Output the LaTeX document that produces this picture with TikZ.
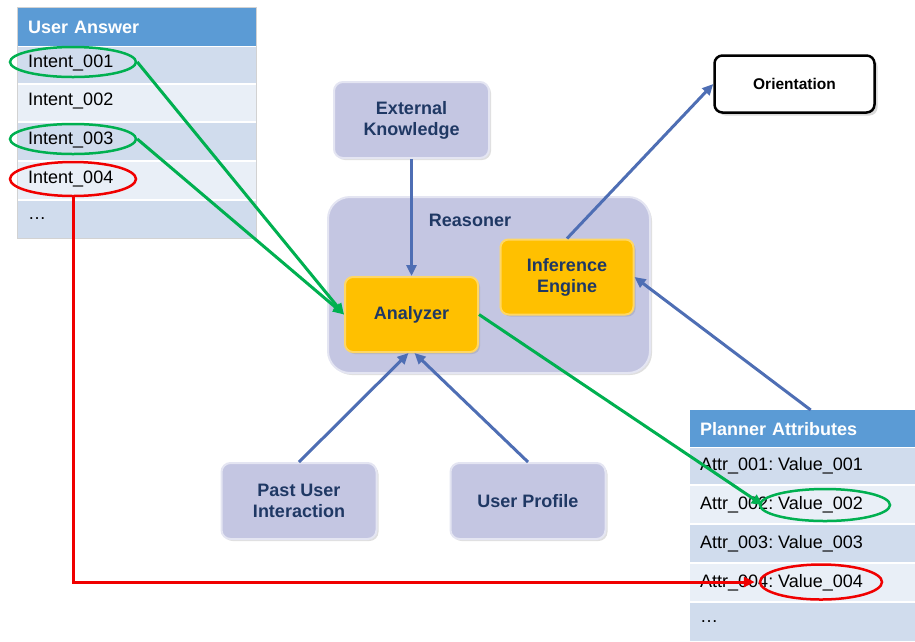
\documentclass[tikz,border=0pt]{standalone}
\usepackage{fontspec}
\setmainfont{Liberation Sans}
\usetikzlibrary{arrows.meta,shadows,shapes.geometric}
\definecolor{navy}{RGB}{31,56,100}
\definecolor{hdr}{RGB}{91,155,213}
\definecolor{rowd}{RGB}{208,220,237}
\definecolor{rowl}{RGB}{233,239,247}
\definecolor{lav}{RGB}{196,198,226}
\definecolor{lavl}{RGB}{228,229,242}
\definecolor{yel}{RGB}{255,192,0}
\definecolor{yell}{RGB}{255,215,100}
\definecolor{blu}{RGB}{78,110,180}
\definecolor{grn}{RGB}{0,176,80}
\definecolor{rd}{RGB}{240,0,0}
\begin{document}
\begin{tikzpicture}[x=1pt,y=-1pt,
  lavbox/.style={rounded corners=9pt, fill=lav, draw=lavl, line width=2pt,
    minimum width=155pt, minimum height=76pt, text=navy, align=center,
    font=\bfseries\fontsize{18}{21}\selectfont,
    drop shadow={shadow xshift=2pt,shadow yshift=-2pt,opacity=.25}},
  yelbox/.style={rounded corners=8pt, fill=yel, draw=yell, line width=2pt,
    minimum width=133pt, minimum height=75pt, text=navy, align=center,
    font=\bfseries\fontsize{18}{21}\selectfont,
    drop shadow={shadow xshift=2pt,shadow yshift=-2pt,opacity=.25}},
  hdrcell/.style={fill=hdr, text=white, anchor=north west, inner sep=10pt,
    align=left, font=\bfseries\fontsize{18}{21}\selectfont},
  celltxt/.style={anchor=west, font=\frenchspacing\fontsize{18}{21}\selectfont, inner sep=0pt},
  ell/.style={ellipse, draw, line width=2.5pt, fill=none},
  conn/.style={line width=3pt, -{Triangle[length=11pt,width=10pt]}},
]
\useasboundingbox (0,0) rectangle (915,641);

% ---------- User Answer table ----------
\draw[gray!35, line width=0.8pt] (17.5,7.5) rectangle (256.5,238.5);
\node[hdrcell, minimum width=238pt, minimum height=38pt, text width=218pt] (uah) at (18,8) {User Answer};
\fill[rowd] (18,47) rectangle (256,83);
\fill[rowl] (18,85) rectangle (256,121);
\fill[rowd] (18,123) rectangle (256,160);
\fill[rowl] (18,162) rectangle (256,199);
\fill[rowd] (18,201) rectangle (256,238);
\node[celltxt] (i1) at (28,63) {Intent\_001};
\node[celltxt] (i2) at (28,101) {Intent\_002};
\node[celltxt] (i3) at (28,140) {Intent\_003};
\node[celltxt] (i4) at (28,179) {Intent\_004};
\node[celltxt] (i5) at (28,219) {\dots};

% ---------- Planner Attributes table ----------
\node[hdrcell, minimum width=225pt, minimum height=37pt, text width=205pt] (pah) at (690,410) {Planner Attributes};
\fill[rowd] (690,448) rectangle (915,484);
\fill[rowl] (690,486) rectangle (915,523);
\fill[rowd] (690,525) rectangle (915,562);
\fill[rowl] (690,564) rectangle (915,601);
\fill[rowd] (690,603) rectangle (915,641);
\node[celltxt] (a1) at (700,466) {Attr\_001: Value\_001};
\node[celltxt] (a2) at (700,505) {Attr\_002: Value\_002};
\node[celltxt] (a3) at (700,544) {Attr\_003: Value\_003};
\node[celltxt] (a4) at (700,583) {Attr\_004: Value\_004};
\node[celltxt] (a5) at (700,622) {\dots};

% ---------- Reasoner ----------
\node[rounded corners=22pt, fill=lav, draw=lavl, line width=2pt,
  minimum width=322pt, minimum height=176pt,
  drop shadow={shadow xshift=2pt,shadow yshift=-2pt,opacity=.25}] (rs) at (489,285) {};
\node[text=navy, font=\bfseries\fontsize{18}{21}\selectfont] (rsl) at (470,220) {Reasoner};

% ---------- boxes ----------
\node[lavbox] (ek) at (411.5,120) {External\\Knowledge};
\node[lavbox] (pu) at (299,501) {Past User\\Interaction};
\node[lavbox] (up) at (528,501) {User Profile};
\node[yelbox] (an) at (411.5,314.5) {Analyzer};
\node[yelbox] (ie) at (567,277) {Inference\\Engine};
\node[rounded corners=8pt, fill=white, draw=black, line width=2.5pt,
  minimum width=160pt, minimum height=57pt,
  font=\bfseries\fontsize{15.5}{18}\selectfont,
  drop shadow={shadow xshift=3pt,shadow yshift=-3pt,opacity=.3}] (or) at (794.5,84) {Orientation};

% ---------- ellipses ----------
\node[ell, draw=grn, minimum width=126pt, minimum height=30pt] (e1) at (73,62) {};
\node[ell, draw=grn, minimum width=126pt, minimum height=30pt] (e3) at (73,139) {};
\node[ell, draw=rd, minimum width=126pt, minimum height=34pt] (e4) at (73,179) {};
\node[ell, draw=grn, minimum width=130pt, minimum height=32pt] (v2) at (825,505) {};
\node[ell, draw=rd, minimum width=122pt, minimum height=35pt] (v4) at (821,582) {};

% ---------- connectors ----------
\draw[conn, blu] (ek.south) -- (an.north);
\draw[conn, blu] (pu.north) -- ([xshift=-3pt]an.south);
\draw[conn, blu] (up.north) -- ([xshift=3pt]an.south);
\draw[conn, blu] (ie.north) -- (or.west);
\draw[conn, blu] ([xshift=8pt]pah.north) -- (ie.east);
\draw[conn, grn] (e1.east) -- (an.west);
\draw[conn, grn] (e3.east) -- (an.west);
\draw[conn, grn] (an.east) -- ([xshift=4pt]v2.west);
\draw[conn, rd] (e4.south) |- ([xshift=-4pt]v4.west);
\end{tikzpicture}
\end{document}
